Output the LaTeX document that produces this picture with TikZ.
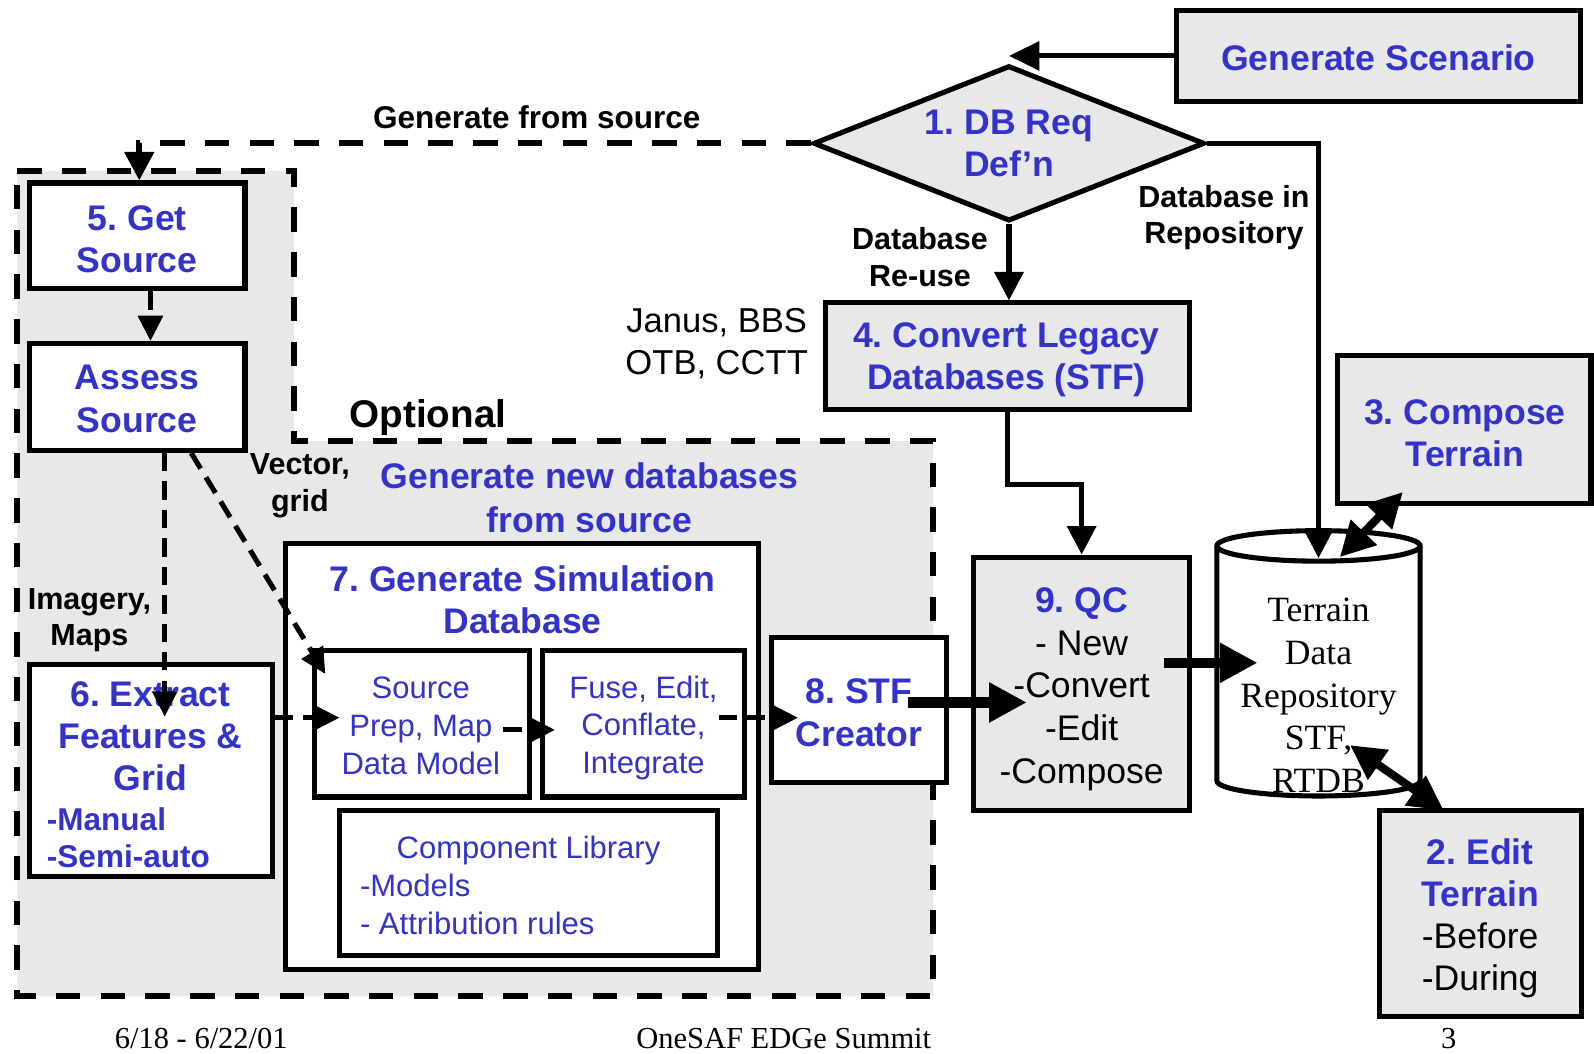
\documentclass[tikz,border=0pt]{standalone}
\usepackage{fontspec}
\setmainfont{Liberation Sans}
\newfontfamily\seriffont{Liberation Serif}
\usetikzlibrary{arrows.meta,shapes.geometric}
\definecolor{tblue}{RGB}{51,51,204}
\definecolor{gfill}{RGB}{232,232,232}
\newcommand\fsz[2]{\fontsize{#1}{#2}\selectfont}
\frenchspacing
\begin{document}
\begin{tikzpicture}[x=1pt,y=-1pt,
  box/.style={draw, line width=5pt, fill=white, inner sep=0pt, align=center, text=tblue, font=\fsz{35}{41.5}\bfseries},
  gbox/.style={box, fill=gfill},
  txt/.style={inner sep=0pt, align=center},
  lbl/.style={inner sep=0pt, align=center, font=\fsz{30}{36}\bfseries},
  conn/.style={line width=5pt, -{Triangle[length=28pt,width=28pt]}},
  dconn/.style={line width=5pt, dash pattern=on 18pt off 10pt, -{Triangle[length=25pt,width=24pt]}},
  dconnb/.style={line width=6pt, dash pattern=on 24pt off 20pt, -{Triangle[length=28pt,width=28pt]}},
  fat/.style={line width=10pt, -{Triangle[length=37pt,width=37pt]}},
  dbl/.style={line width=8pt, {Triangle[length=34pt,width=34pt]}-{Triangle[length=34pt,width=34pt]}},
  region/.style={line width=6pt, dash pattern=on 24pt off 20pt, fill=gfill}
]
\useasboundingbox[fill=white] (0,0) rectangle (1568,1036);

% optional gray region
\draw[region] (17,168) -- (289,168) -- (289,434) -- (918,434) -- (918,980) -- (17,980) -- cycle;

% top part
\node[gbox, minimum width=398pt, minimum height=90pt] (scen) at (1356,55) {};
\node[txt, text=tblue, font=\fsz{35}{41.5}\bfseries] (scenT) at (1356,57) {Generate Scenario};
\node[diamond, draw, line width=5pt, fill=gfill, aspect=2.5, minimum width=385pt, minimum height=153pt, inner sep=0pt, align=center, text=tblue, font=\fsz{35}{41.5}\bfseries] (dia) at (992.5,141) {1. DB Req\\Def'n};
\node[gbox, minimum width=358pt, minimum height=105pt] (conv) at (991,350.5) {};
\node[txt, text=tblue, font=\fsz{35}{42}\bfseries] (convT) at (990,354) {4. Convert Legacy\\Databases (STF)};
\node[gbox, minimum width=249pt, minimum height=145pt] (comp) at (1440.5,422.5) {};
\node[txt, text=tblue, font=\fsz{35}{41.5}\bfseries] (compT) at (1441,426) {3. Compose\\Terrain};
\node[gbox, minimum width=212pt, minimum height=249pt] (qc) at (1064,672.5) {};
\node[txt, font=\fsz{35}{42}] (qcT) at (1064,678) {{\bfseries\color{tblue}9. QC}\\- New\\-Convert\\-Edit\\-Compose};
\node[gbox, minimum width=199pt, minimum height=203pt] (edit) at (1456.5,898.5) {};
\node[txt, font=\fsz{35}{41.5}] (editT) at (1456,903.5) {{\bfseries\color{tblue}2. Edit}\\{\bfseries\color{tblue}Terrain}\\-Before\\-During};

% cylinder
\filldraw[fill=white, line width=5pt] (1197,537) -- (1197,768) arc[start angle=180, end angle=360, x radius=100pt, y radius=15pt] -- (1397,537) arc[start angle=0, end angle=180, x radius=100pt, y radius=15pt] -- cycle;
\draw[line width=5pt] (1197,537) arc[start angle=180, end angle=360, x radius=100pt, y radius=15pt];
\node[txt, font=\seriffont\fsz{35}{42}] (repo) at (1297,684) {Terrain\\Data\\Repository\\STF,\\RTDB};

% left column
\node[box, minimum width=212pt, minimum height=104pt] (get) at (135,232) {};
\node[txt, text=tblue, font=\fsz{35}{41.5}\bfseries] (getT) at (135,235) {5. Get\\Source};
\node[box, minimum width=212pt, minimum height=105pt] (assess) at (135,390.5) {};
\node[txt, text=tblue, font=\fsz{35}{41.5}\bfseries] (assessT) at (135,392.5) {Assess\\Source};
\node[box, minimum width=239pt, minimum height=208pt] (extract) at (148.5,758) {};
\node[txt, text=tblue, font=\fsz{35}{41.5}\bfseries] (extractT) at (148,724) {6. Extract\\Features \&\\Grid};
\node[inner sep=0pt, anchor=west, align=left, text=tblue, font=\fsz{31}{37}\bfseries] (extractL) at (46,824) {-Manual\\-Semi-auto};

% generate simulation database
\node[box, minimum width=465pt, minimum height=419pt] (gensim) at (513.5,744.5) {};
\node[txt, text=tblue, font=\fsz{35}{42}\bfseries] (gensimT) at (514,590) {7. Generate Simulation\\Database};
\node[box, minimum width=212pt, minimum height=144pt] (prep) at (415,712) {};
\node[txt, text=tblue, font=\fsz{30.5}{37}] (prepT) at (414,714) {Source\\Prep, Map\\Data Model};
\node[box, minimum width=198pt, minimum height=144pt] (fuse) at (633,712) {};
\node[txt, text=tblue, font=\fsz{30.5}{37}] (fuseT) at (633,716) {Fuse, Edit,\\Conflate,\\Integrate};
\node[box, minimum width=372pt, minimum height=143pt] (lib) at (520,868.5) {};
\node[inner sep=0pt, anchor=west, align=left, text=tblue, font=\fsz{30.5}{37}] (libT) at (354,871) {\hspace*{36pt}Component Library\\-Models\\- Attribution rules};
\node[box, minimum width=172pt, minimum height=143pt] (stf) at (845,698.5) {};
\node[txt, text=tblue, font=\fsz{35}{43}\bfseries] (stfT) at (845,701) {8. STF\\Creator};

% labels
\node[lbl, font=\fsz{31}{36}\bfseries] (genfrom) at (528,115) {Generate from source};
\node[lbl] (dbin) at (1204,214) {Database in\\Repository};
\node[lbl] (reuse) at (905,253) {Database\\Re-use};
\node[txt, font=\fsz{34}{42}] (janus) at (705,338) {Janus, BBS\\OTB, CCTT};
\node[lbl, font=\fsz{38}{42}\bfseries] (optional) at (421,411) {Optional};
\node[lbl] (vector) at (295,478) {Vector,\\grid};
\node[txt, text=tblue, font=\fsz{35}{43}\bfseries] (gennew) at (580,490) {Generate new databases\\from source};
\node[lbl] (imagery) at (88,610) {Imagery,\\Maps};

% footer
\node[inner sep=0pt, font=\seriffont\fsz{30}{36}] (date) at (198,1022) {6/18 - 6/22/01};
\node[inner sep=0pt, font=\seriffont\fsz{30}{36}] (summit) at (771,1022) {OneSAF EDGe Summit};
\node[inner sep=0pt, font=\seriffont\fsz{30}{36}] (page) at (1425,1022) {3};

% connector end points
\coordinate (repoN) at (1297,549);
\coordinate (qcout) at (1145,652);
\coordinate (repoW) at (1237,652);
\coordinate (stfout) at (893,691);
\coordinate (qcW) at (1010,691);
\coordinate (compS) at (1380,484);
\coordinate (repoNE) at (1318,548);
\coordinate (editN) at (1420,797);
\coordinate (repoSE) at (1328,733);
\coordinate (extractIn) at (162,705);
\coordinate (prepIn) at (320,663);
\coordinate (prepL) at (334,706);
\coordinate (prepOut) at (495,718);
\coordinate (fuseIn) at (546,718);
\coordinate (fuseOut) at (707,706);
\coordinate (stfIn) at (785,706);

% connectors
\draw[conn, -{Triangle[length=30pt,width=28pt]}] (scen.west) -- (scen.west -| dia.north);
\draw[dconnb] (dia.west) -| ([xshift=2pt]get.north);
\draw[conn] (dia.east) -| (repoN);
\draw[conn] (dia.south) -- (dia.south |- conv.north);
\draw[conn] (conv.south) -- ++(0,71) -| (qc.north);
\draw[fat] (stfout) -- (qcW);
\draw[fat] (qcout) -- (repoW);
\draw[dbl] (compS) -- (repoNE);
\draw[dbl] (editN) -- (repoSE);
\draw[dconn] ([xshift=13pt]get.south) -- ([xshift=13pt]assess.north);
\draw[dconn] ([xshift=27pt]assess.south) -- (extractIn);
\draw[dconn] ([xshift=53pt]assess.south) -- (prepIn);
\draw[dconn] (extract.east |- prepL) -- (prepL);
\draw[dconn] (prepOut) -- (fuseIn);
\draw[dconn] (fuseOut) -- (stfIn);
\end{tikzpicture}
\end{document}
